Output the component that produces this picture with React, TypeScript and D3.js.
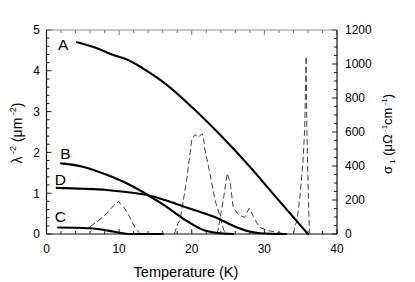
import React from "react";
import * as d3 from "d3";

// penetration depth curves (lambda^-2, um^-2)
const tempA = [4.2, 6.7, 9, 11.3, 14.3, 16.6, 20.2, 23.9, 28, 32, 34, 36];
const lambdaA = [4.7, 4.57, 4.4, 4.26, 3.94, 3.65, 3.08, 2.43, 1.65, 0.82, 0.41, 0.0];
const tempB = [2, 5, 8.3, 11.5, 14, 16.5, 18.8, 21.6, 23.4, 25.7];
const lambdaB = [1.73, 1.65, 1.45, 1.2, 0.95, 0.67, 0.38, 0.1, 0.03, 0];
const tempC = [1.6, 4, 6, 8, 9.2, 10.5, 11.5, 16];
const lambdaC = [0.16, 0.155, 0.14, 0.1, 0.06, 0.02, 0, 0];
const tempD = [1.4, 5, 8.3, 11, 14, 16.5, 18.8, 21, 23.4, 25.7, 27.5, 29.4, 33];
const lambdaD = [1.13, 1.11, 1.08, 1.03, 0.95, 0.82, 0.68, 0.55, 0.4, 0.2, 0.08, 0.02, 0];

// optical conductivity curves (sigma_1, right axis)
const sigTempC = [6, 7.2, 8.3, 9.2, 9.9, 10.6, 11.3, 12.0, 12.4, 12.9, 13.5];
const sigmaC = [43, 80, 122, 165, 190, 161, 112, 53, 24, 4, 0];
const sigTempB = [17.6, 17.9, 18.1, 18.4, 18.7, 19.3, 20.0, 20.45, 20.9, 21.4, 21.6, 21.8, 22.5, 23.2, 23.9, 24.4, 24.7];
const sigmaB = [0, 40, 63, 82, 160, 318, 553, 585, 568, 590, 572, 500, 357, 200, 102, 24, 0];
const sigTempD = [23.5, 23.8, 24.4, 24.9, 25.3, 25.7, 26.1, 26.6, 27.3, 27.9, 28.5, 29.3, 30.5, 32, 33];
const sigmaD = [0, 63, 219, 357, 298, 161, 131, 110, 98, 151, 102, 40, 20, 8, 0];
const sigTempA = [34.0, 34.2, 34.5, 34.9, 35.3, 35.55, 35.75, 35.85, 35.95, 36.06, 36.2, 36.3];
const sigmaA = [0, 43, 82, 219, 416, 612, 1045, 612, 416, 219, 14, 0];

const xTicks = [0, 10, 20, 30, 40];
const leftTicks = [0, 1, 2, 3, 4, 5];
const rightTicks = [0, 200, 400, 600, 800, 1000, 1200];

const curveLabels = ["A", "B", "D", "C"];
const labelTemp = [2.3, 2.6, 1.9, 1.9];
const labelLambda = [4.62, 1.95, 1.3, 0.4];

const W = 415;
const H = 282;
const font = "'Liberation Sans', Arial, Helvetica, sans-serif";

export default function App() {
  const left = 46.5, right = 337, top = 30, bottom = 234;
  const x = d3.scaleLinear().domain([0, 40]).range([left, right]);
  const y = d3.scaleLinear().domain([0, 5]).range([bottom, top]);
  const y2 = d3.scaleLinear().domain([0, 1200]).range([bottom, top]);

  const zip = (t: number[], v: number[]) => t.map((d, i) => [d, v[i]] as [number, number]);

  const solid = d3
    .line<[number, number]>()
    .x((d) => x(d[0]))
    .y((d) => y(d[1]))
    .curve(d3.curveMonotoneX);

  const dashed = d3
    .line<[number, number]>()
    .x((d) => x(d[0]))
    .y((d) => y2(d[1]));

  const solidSets = [
    zip(tempA, lambdaA),
    zip(tempB, lambdaB),
    zip(tempC, lambdaC),
    zip(tempD, lambdaD),
  ];
  const dashSets = [
    zip(sigTempC, sigmaC),
    zip(sigTempB, sigmaB),
    zip(sigTempD, sigmaD),
    zip(sigTempA, sigmaA),
  ];

  // ticks (inward)
  const xMinor = x.ticks(20);
  const yMinor = y.ticks(25);
  const y2Minor = y2.ticks(24);

  return (
    <svg
      width={W}
      height={H}
      style={{ position: "absolute", left: 0, top: 0, background: "#fff" }}
      fontFamily={font}
    >
      <rect x={0} y={0} width={W} height={H} fill="#fff" />

      {/* ticks */}
      {xMinor.map((t) => {
        const len = t % 10 === 0 ? 5 : 3;
        return (
          <g key={"x" + t} stroke="#222" strokeWidth={1}>
            <line x1={x(t)} x2={x(t)} y1={bottom} y2={bottom - len} />
            <line x1={x(t)} x2={x(t)} y1={top} y2={top + len} stroke="#777" />
          </g>
        );
      })}
      {yMinor.map((t) => {
        const len = Math.abs(t - Math.round(t)) < 1e-6 ? 5 : 3;
        return (
          <line key={"y" + t} x1={left} x2={left + len} y1={y(t)} y2={y(t)} stroke="#222" />
        );
      })}
      {y2Minor.map((t) => {
        const len = t % 200 === 0 ? 5 : 3;
        return (
          <line key={"r" + t} x1={right} x2={right - len} y1={y2(t)} y2={y2(t)} stroke="#222" />
        );
      })}

      {/* frame */}
      <line x1={left} x2={right} y1={top} y2={top} stroke="#888" strokeWidth={1} />
      <line x1={left} x2={left} y1={top} y2={bottom} stroke="#111" strokeWidth={1.2} />
      <line x1={right} x2={right} y1={top} y2={bottom} stroke="#111" strokeWidth={1.2} />
      <line x1={left} x2={right} y1={bottom} y2={bottom} stroke="#111" strokeWidth={1.2} />

      {/* dashed sigma curves */}
      {dashSets.map((d, i) => (
        <path
          key={"d" + i}
          d={dashed(d) || ""}
          fill="none"
          stroke="#444"
          strokeWidth={1}
          strokeDasharray="6,3"
        />
      ))}

      {/* solid lambda curves */}
      {solidSets.map((d, i) => (
        <path
          key={"s" + i}
          d={solid(d) || ""}
          fill="none"
          stroke="#000"
          strokeWidth={2.1}
          strokeLinecap="round"
        />
      ))}

      {/* curve labels */}
      {curveLabels.map((c, i) => (
        <text
          key={c}
          x={x(labelTemp[i])}
          y={y(labelLambda[i])}
          fontSize={15.5}
          textAnchor="middle"
          dominantBaseline="middle"
          fill="#000"
        >
          {c}
        </text>
      ))}

      {/* tick labels */}
      {xTicks.map((t) => (
        <text key={"xl" + t} x={x(t)} y={253} fontSize={12} textAnchor="middle" fill="#000">
          {t}
        </text>
      ))}
      {leftTicks.map((t) => (
        <text key={"yl" + t} x={40} y={y(t) + 4.3} fontSize={12} textAnchor="end" fill="#000">
          {t}
        </text>
      ))}
      {rightTicks.map((t) => (
        <text key={"rl" + t} x={345} y={y2(t) + 4.3} fontSize={12} textAnchor="start" fill="#000">
          {t}
        </text>
      ))}

      {/* axis titles */}
      <text x={186} y={277} fontSize={14.5} textAnchor="middle" fill="#000">
        Temperature (K)
      </text>
      <text
        transform="translate(22,133) rotate(-90)"
        fontSize={14}
        textAnchor="middle"
        fill="#000"
      >
        λ<tspan fontSize={9} dy={-6}> -2</tspan>
        <tspan dy={6}> (μm</tspan>
        <tspan fontSize={9} dy={-6}> -2</tspan>
        <tspan dy={6}>)</tspan>
      </text>
      <text
        transform="translate(392,134) rotate(-90)"
        fontSize={13}
        textAnchor="middle"
        fill="#000"
      >
        σ<tspan fontSize={8} dy={3}> 1</tspan>
        <tspan dy={-3}> (μΩ</tspan>
        <tspan fontSize={8} dy={-5}> -1</tspan>
        <tspan dy={5}>cm</tspan>
        <tspan fontSize={8} dy={-5}> -1</tspan>
        <tspan dy={5}>)</tspan>
      </text>
    </svg>
  );
}
